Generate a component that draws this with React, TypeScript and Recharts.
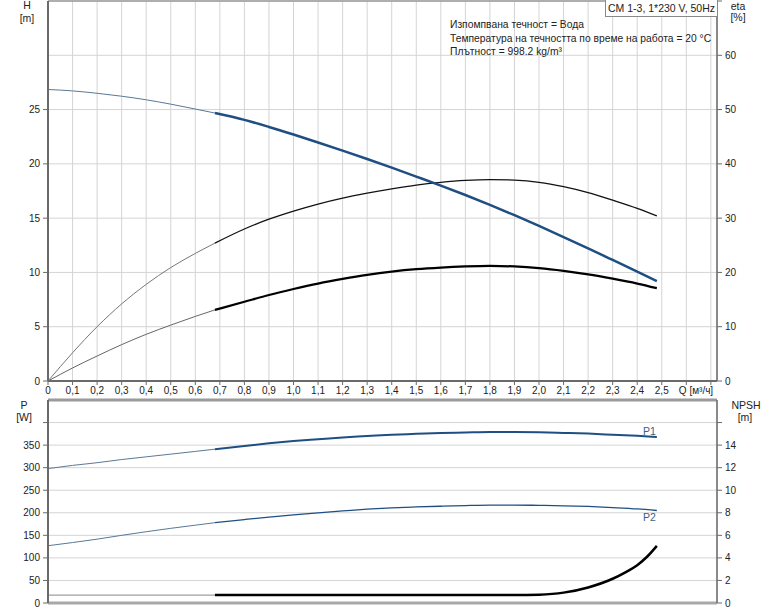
import React from 'react';
import { LineChart, Line, XAxis, YAxis, CartesianGrid, ReferenceLine, ReferenceDot } from 'recharts';

// Flow rate Q [m³/h]
const Q = [0, 0.1, 0.2, 0.3, 0.4, 0.5, 0.6, 0.68, 0.8, 0.9, 1.0, 1.1, 1.2, 1.3, 1.4, 1.5, 1.6, 1.7, 1.8, 1.9, 2.0, 2.1, 2.2, 2.3, 2.4, 2.48];
// Head H [m]
const H = [26.85, 26.72, 26.5, 26.23, 25.9, 25.5, 25.05, 24.68, 24.05, 23.4, 22.7, 21.97, 21.22, 20.45, 19.65, 18.83, 18.0, 17.13, 16.22, 15.27, 14.28, 13.26, 12.22, 11.15, 10.07, 9.2];
// Pump efficiency eta [%]
const ETA = [0, 5.2, 10.0, 14.2, 17.8, 20.9, 23.5, 25.4, 28.0, 29.8, 31.3, 32.6, 33.7, 34.6, 35.4, 36.1, 36.6, 36.95, 37.1, 37.0, 36.6, 35.8, 34.7, 33.3, 31.8, 30.4];
// Total efficiency [%]
const ETA_TOTAL = [0, 2.4, 4.6, 6.7, 8.6, 10.3, 11.9, 13.1, 14.6, 15.85, 16.95, 17.95, 18.8, 19.55, 20.15, 20.6, 20.9, 21.1, 21.2, 21.1, 20.8, 20.3, 19.65, 18.85, 17.95, 17.1];
// Power P1 / P2 [W]
const P1 = [298, 305, 311, 318, 324, 330, 336, 341, 348, 354, 359, 363, 367, 370, 373, 375, 377, 378, 379, 379, 378.5, 377, 375.5, 373, 370.5, 368];
const P2 = [127, 134, 141.5, 150, 158, 165.5, 172.5, 178, 185, 190.5, 195.5, 200, 204, 208, 211, 213, 214.5, 216, 217, 217, 216.5, 215.5, 214, 211.5, 208.5, 205];
// NPSH [m]
const NPSH_Q = [0, 0.68, 1.0, 1.5, 1.9, 2.0, 2.1, 2.2, 2.3, 2.35, 2.4, 2.44, 2.48];
const NPSH = [0.7, 0.7, 0.7, 0.7, 0.7, 0.74, 0.92, 1.38, 2.15, 2.7, 3.35, 4.1, 5.07];

const SPLIT = 0.68;

const X_TICKS = [0, 0.1, 0.2, 0.3, 0.4, 0.5, 0.6, 0.7, 0.8, 0.9, 1.0, 1.1, 1.2, 1.3, 1.4, 1.5, 1.6, 1.7, 1.8, 1.9, 2.0, 2.1, 2.2, 2.3, 2.4, 2.5, 2.6, 2.7];
const H_TICKS = [0, 5, 10, 15, 20, 25];
const ETA_TICKS = [0, 10, 20, 30, 40, 50, 60, 70];
const P_TICKS = [0, 50, 100, 150, 200, 250, 300, 350, 400];
const NPSH_TICKS = [0, 2, 4, 6, 8, 10, 12, 14, 16];

const TITLE = 'CM 1-3, 1*230 V, 50Hz';
const INFO = [
  'Изпомпвана течност = Вода',
  'Температура на течността по време на работа = 20 °C',
  'Плътност = 998.2 kg/m³',
];

const FONT = '"Liberation Sans", Arial, sans-serif';
const BLUE = '#1f4f82';
const BLUE_THIN = '#5b7896';
const AXIS = '#6a6a6a';
const GRID = '#d4d4d4';

const series = (qs: number[], vals: number[]) => qs.map((q, i) => ({ q, v: vals[i] }));
const thinPart = (vals: number[], qs: number[] = Q) => series(qs, vals).filter((d) => d.q <= SPLIT);
const thickPart = (vals: number[], qs: number[] = Q) => series(qs, vals).filter((d) => d.q >= SPLIT);

const fmtX = (v: number) => (v === 0 ? '0' : v > 2.5 ? '' : v.toFixed(1).replace('.', ','));
const tickStyle = { fontSize: 10, fill: '#222', fontFamily: FONT };

const X_DOMAIN: [number, number] = [0, 2.725];

const Label = ({ x, y, w, children, size = 10.5 }: any) => (
  <div
    style={{
      position: 'absolute',
      left: x - w / 2,
      top: y - 7,
      width: w,
      textAlign: 'center',
      fontFamily: FONT,
      fontSize: size,
      lineHeight: '14px',
      color: '#222',
      whiteSpace: 'nowrap',
    }}
  >
    {children}
  </div>
);

export default function App() {
  return (
    <div style={{ position: 'absolute', left: 0, top: 0, width: 774, height: 611, background: '#fff', overflow: 'hidden' }}>
      {/* Top panel: H and eta */}
      <div style={{ position: 'absolute', left: 0, top: 0 }}>
        <LineChart width={774} height={400} margin={{ top: 1, right: 0, bottom: 0, left: 0 }} style={{ fontFamily: FONT }}>
          <CartesianGrid yAxisId="eta" stroke={GRID} strokeWidth={1} />
          <XAxis
            dataKey="q"
            type="number"
            domain={X_DOMAIN}
            ticks={X_TICKS}
            tickFormatter={fmtX}
            interval={0}
            height={19}
            tickSize={4}
            tickMargin={2}
            tick={tickStyle}
            axisLine={{ stroke: AXIS, strokeWidth: 2 }}
            tickLine={{ stroke: AXIS }}
            allowDataOverflow
          />
          <YAxis
            yAxisId="h"
            orientation="left"
            domain={[0, 35]}
            ticks={H_TICKS}
            interval={0}
            width={48}
            tickSize={5}
            tickMargin={3}
            tick={tickStyle}
            axisLine={{ stroke: AXIS, strokeWidth: 2 }}
            tickLine={{ stroke: AXIS }}
            allowDataOverflow
          />
          <YAxis
            yAxisId="eta"
            orientation="right"
            domain={[0, 70]}
            ticks={ETA_TICKS}
            interval={0}
            width={57}
            tickSize={5}
            tickMargin={3}
            tickFormatter={(v: number) => (v === 70 ? '' : String(v))}
            tick={tickStyle}
            axisLine={{ stroke: AXIS, strokeWidth: 1.5 }}
            tickLine={{ stroke: AXIS }}
            allowDataOverflow
          />
          <ReferenceLine yAxisId="eta" y={70} stroke="#9a9a9a" strokeWidth={1.5} />

          <Line yAxisId="eta" data={thinPart(ETA)} dataKey="v" type="monotone" stroke="#777" strokeWidth={1} dot={false} isAnimationActive={false} />
          <Line yAxisId="eta" data={thickPart(ETA)} dataKey="v" type="monotone" stroke="#111" strokeWidth={1.3} dot={false} isAnimationActive={false} />
          <Line yAxisId="eta" data={thinPart(ETA_TOTAL)} dataKey="v" type="monotone" stroke="#666" strokeWidth={1} dot={false} isAnimationActive={false} />
          <Line yAxisId="eta" data={thickPart(ETA_TOTAL)} dataKey="v" type="monotone" stroke="#000" strokeWidth={2.2} dot={false} isAnimationActive={false} />
          <Line yAxisId="h" data={thinPart(H)} dataKey="v" type="monotone" stroke={BLUE_THIN} strokeWidth={1} dot={false} isAnimationActive={false} />
          <Line yAxisId="h" data={thickPart(H)} dataKey="v" type="monotone" stroke={BLUE} strokeWidth={2.5} dot={false} isAnimationActive={false} />
        </LineChart>
      </div>

      {/* Bottom panel: P and NPSH */}
      <div style={{ position: 'absolute', left: 0, top: 398 }}>
        <LineChart width={774} height={213} margin={{ top: 2, right: 0, bottom: 0, left: 0 }} style={{ fontFamily: FONT }}>
          <CartesianGrid yAxisId="p" stroke={GRID} strokeWidth={1} />
          <XAxis
            dataKey="q"
            type="number"
            domain={X_DOMAIN}
            ticks={X_TICKS}
            interval={0}
            height={8}
            tick={false}
            tickLine={false}
            axisLine={{ stroke: '#a8a8a8', strokeWidth: 3 }}
            allowDataOverflow
          />
          <YAxis
            yAxisId="p"
            orientation="left"
            domain={[0, 450]}
            ticks={P_TICKS}
            interval={0}
            width={48}
            tickSize={5}
            tickMargin={3}
            tickFormatter={(v: number) => (v === 400 ? '' : String(v))}
            tick={tickStyle}
            axisLine={{ stroke: AXIS, strokeWidth: 2 }}
            tickLine={{ stroke: AXIS }}
            allowDataOverflow
          />
          <YAxis
            yAxisId="npsh"
            orientation="right"
            domain={[0, 18]}
            ticks={NPSH_TICKS}
            interval={0}
            width={57}
            tickSize={5}
            tickMargin={3}
            tickFormatter={(v: number) => (v === 16 ? '' : String(v))}
            tick={tickStyle}
            axisLine={{ stroke: AXIS, strokeWidth: 1.5 }}
            tickLine={{ stroke: AXIS }}
            allowDataOverflow
          />
          <ReferenceLine yAxisId="p" y={450} stroke="#9a9a9a" strokeWidth={3} />

          <Line yAxisId="npsh" data={thinPart(NPSH, NPSH_Q)} dataKey="v" type="monotone" stroke="#888" strokeWidth={1} dot={false} isAnimationActive={false} />
          <Line yAxisId="npsh" data={thickPart(NPSH, NPSH_Q)} dataKey="v" type="monotone" stroke="#000" strokeWidth={2.5} dot={false} isAnimationActive={false} />
          <Line yAxisId="p" data={thinPart(P1)} dataKey="v" type="monotone" stroke={BLUE_THIN} strokeWidth={1} dot={false} isAnimationActive={false} />
          <Line yAxisId="p" data={thickPart(P1)} dataKey="v" type="monotone" stroke={BLUE} strokeWidth={2} dot={false} isAnimationActive={false} />
          <Line yAxisId="p" data={thinPart(P2)} dataKey="v" type="monotone" stroke={BLUE_THIN} strokeWidth={1} dot={false} isAnimationActive={false} />
          <Line yAxisId="p" data={thickPart(P2)} dataKey="v" type="monotone" stroke={BLUE} strokeWidth={1.3} dot={false} isAnimationActive={false} />

          <ReferenceDot
            yAxisId="p"
            x={2.45}
            y={P1[P1.length - 1]}
            r={0}
            stroke="none"
            label={{ value: 'P1', position: 'top', offset: 2, fill: '#3a5f85', fontSize: 10.5, fontFamily: FONT }}
          />
          <ReferenceDot
            yAxisId="p"
            x={2.45}
            y={P2[P2.length - 1]}
            r={0}
            stroke="none"
            label={{ value: 'P2', position: 'bottom', offset: 3, fill: '#3a5f85', fontSize: 10.5, fontFamily: FONT }}
          />
        </LineChart>
      </div>

      {/* Title box */}
      <div
        style={{
          position: 'absolute',
          left: 605,
          top: -1,
          width: 111,
          height: 16,
          border: '1px solid #888',
          background: '#fff',
          fontFamily: FONT,
          fontSize: 10.5,
          lineHeight: '16px',
          textAlign: 'center',
          color: '#222',
          whiteSpace: 'nowrap',
        }}
      >
        {TITLE}
      </div>

      {/* Info text */}
      <div
        style={{
          position: 'absolute',
          left: 450,
          top: 18,
          fontFamily: FONT,
          fontSize: 10.3,
          lineHeight: '13.5px',
          color: '#222',
          whiteSpace: 'nowrap',
        }}
      >
        {INFO.map((t) => (
          <div key={t}>{t}</div>
        ))}
      </div>

      {/* Axis titles */}
      <Label x={27} y={5} w={30}>H</Label>
      <Label x={27} y={18} w={30}>[m]</Label>
      <Label x={738} y={6} w={40}>eta</Label>
      <Label x={738} y={17} w={40}>[%]</Label>
      <Label x={24} y={405} w={30}>P</Label>
      <Label x={24} y={417} w={30}>[W]</Label>
      <Label x={746} y={405} w={50}>NPSH</Label>
      <Label x={745} y={417} w={40}>[m]</Label>
      <Label x={696} y={391} w={50} size={10}>Q [м³/ч]</Label>
    </div>
  );
}
